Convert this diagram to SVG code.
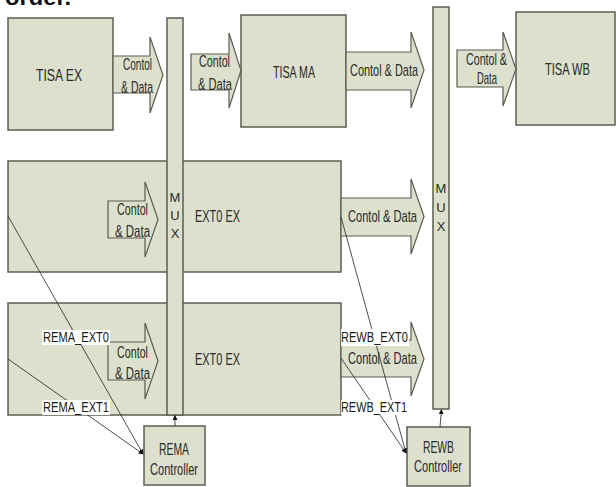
<svg xmlns="http://www.w3.org/2000/svg" width="616" height="487" viewBox="0 0 616 487">
<defs>
<style>
.box{fill:#dde0cc;stroke:#5c5c52;stroke-width:1.5}
.arr{fill:#dde0cc;stroke:#5c5c52;stroke-width:1.2;stroke-linejoin:miter}
.t{font-family:"Liberation Sans",Arial,sans-serif;font-size:17px;fill:#2a2a2a}
.m{font-family:"Liberation Sans",Arial,sans-serif;font-size:13px;fill:#2a2a2a;text-anchor:middle}
.lbl{font-family:"Liberation Sans",Arial,sans-serif;font-size:15px;fill:#1a1a1a}
.bg{fill:#ffffff}
.ln{stroke:#222;stroke-width:0.8;fill:none}
</style>
<marker id="ah" viewBox="0 0 10 10" refX="9" refY="5" markerWidth="5" markerHeight="5" markerUnits="userSpaceOnUse" orient="auto">
<path d="M0,0 L10,5 L0,10 Z" fill="#111"/>
</marker>
</defs>
<text x="5" y="5" font-family="Liberation Sans,Arial,sans-serif" font-size="22" font-weight="bold" fill="#111" textLength="66" lengthAdjust="spacingAndGlyphs">order.</text>

<g id="ext0-ex-row2">
<rect class="box" x="8" y="161" width="333" height="111"/>
<text class="t" x="195" y="222" textLength="45" lengthAdjust="spacingAndGlyphs">EXT0 EX</text>
</g>
<g id="ext0-ex-row3">
<rect class="box" x="8" y="303" width="333" height="112"/>
<text class="t" x="195" y="365" textLength="45" lengthAdjust="spacingAndGlyphs">EXT0 EX</text>
</g>
<g id="mux1">
<rect class="box" x="167" y="18" width="16" height="397"/>
<text class="m" x="175" y="202">M</text>
<text class="m" x="175" y="220">U</text>
<text class="m" x="175" y="238">X</text>
</g>
<g id="mux2">
<rect class="box" x="433" y="7" width="16" height="402"/>
<text class="m" x="441" y="193">M</text>
<text class="m" x="441" y="212">U</text>
<text class="m" x="441" y="231">X</text>
</g>
<g id="tisa-ex">
<rect class="box" x="8" y="18" width="105" height="112"/>
<text class="t" x="36" y="81" textLength="46" lengthAdjust="spacingAndGlyphs">TISA EX</text>
</g>
<g id="tisa-ma">
<rect class="box" x="241" y="15" width="105" height="112"/>
<text class="t" x="273" y="78" textLength="42" lengthAdjust="spacingAndGlyphs">TISA MA</text>
</g>
<g id="tisa-wb">
<rect class="box" x="516" y="12" width="99" height="113"/>
<text class="t" x="545" y="75" textLength="45" lengthAdjust="spacingAndGlyphs">TISA WB</text>
</g>
<g id="rema-controller">
<rect class="box" x="144" y="426" width="61" height="59"/>
<text class="t" x="159" y="455" textLength="30" lengthAdjust="spacingAndGlyphs">REMA</text>
<text class="t" x="150" y="475" textLength="48" lengthAdjust="spacingAndGlyphs">Controller</text>
</g>
<g id="rewb-controller">
<rect class="box" x="407" y="427" width="63" height="59"/>
<text class="t" x="423" y="453" textLength="31" lengthAdjust="spacingAndGlyphs">REWB</text>
<text class="t" x="414" y="472" textLength="48" lengthAdjust="spacingAndGlyphs">Controller</text>
</g>

<g id="connectors">
<g id="arrow-tisaex-mux1">
<polygon class="arr" points="113,56 150,56 150,37 163,75 150,113 150,93 113,93"/>
<text class="t" x="123" y="70" textLength="29" lengthAdjust="spacingAndGlyphs">Contol</text>
<text class="t" x="121" y="93" textLength="32" lengthAdjust="spacingAndGlyphs">&amp; Data</text>
</g>
<g id="arrow-mux1-tisama">
<polygon class="arr" points="191,54 229,54 229,33 241,70.5 229,108 229,90 191,90"/>
<text class="t" x="199" y="67" textLength="31" lengthAdjust="spacingAndGlyphs">Contol</text>
<text class="t" x="198" y="90" textLength="34" lengthAdjust="spacingAndGlyphs">&amp; Data</text>
</g>
<g id="arrow-tisama-mux2">
<polygon class="arr" points="346,52 411,52 411,32 424,70 411,108 411,90 346,90"/>
<text class="t" x="350" y="76" textLength="68" lengthAdjust="spacingAndGlyphs">Contol &amp; Data</text>
</g>
<g id="arrow-mux2-tisawb">
<polygon class="arr" points="457,50 503,50 503,32 516,69 503,106 503,87 457,87"/>
<text class="t" x="466" y="65" textLength="41" lengthAdjust="spacingAndGlyphs">Contol &amp;</text>
<text class="t" x="477" y="84" textLength="20" lengthAdjust="spacingAndGlyphs">Data</text>
</g>
<g id="arrow-row2-in">
<polygon class="arr" points="108,201 145,201 145,182 158,219.5 145,257 145,238 108,238"/>
<text class="t" x="117" y="215" textLength="31" lengthAdjust="spacingAndGlyphs">Contol</text>
<text class="t" x="115" y="237" textLength="35" lengthAdjust="spacingAndGlyphs">&amp; Data</text>
</g>
<g id="arrow-row2-out">
<polygon class="arr" points="341,198 411,198 411,179 424,216.5 411,254 411,236 341,236"/>
<text class="t" x="348" y="222" textLength="69" lengthAdjust="spacingAndGlyphs">Contol &amp; Data</text>
</g>
<g id="arrow-row3-in">
<polygon class="arr" points="108,342 145,342 145,323 158,361 145,399 145,380 108,380"/>
<text class="t" x="117" y="358" textLength="31" lengthAdjust="spacingAndGlyphs">Contol</text>
<text class="t" x="115" y="379" textLength="35" lengthAdjust="spacingAndGlyphs">&amp; Data</text>
</g>
<g id="arrow-row3-out">
<polygon class="arr" points="341,340 411,340 411,322 424,359 411,396 411,377 341,377"/>
<text class="t" x="348" y="364" textLength="69" lengthAdjust="spacingAndGlyphs">Contol &amp; Data</text>
</g>
<line class="ln" x1="8" y1="216" x2="143" y2="454" marker-end="url(#ah)"/>
<line class="ln" x1="8" y1="359" x2="143" y2="454" marker-end="url(#ah)"/>
<line class="ln" x1="341" y1="217" x2="406" y2="453" marker-end="url(#ah)"/>
<line class="ln" x1="341" y1="358" x2="406" y2="453" marker-end="url(#ah)"/>
<line class="ln" x1="175" y1="426" x2="175" y2="415.5" marker-end="url(#ah)"/>
<line class="ln" x1="440" y1="427" x2="441.5" y2="409.5" marker-end="url(#ah)"/>
<g id="labels">
<rect class="bg" x="42" y="330" width="68" height="15"/>
<text class="lbl" x="43" y="342" textLength="66" lengthAdjust="spacingAndGlyphs">REMA_EXT0</text>
<rect class="bg" x="42" y="400" width="68" height="15"/>
<text class="lbl" x="43" y="412" textLength="66" lengthAdjust="spacingAndGlyphs">REMA_EXT1</text>
<rect class="bg" x="341" y="329" width="68" height="17"/>
<text class="lbl" x="341" y="342" textLength="67" lengthAdjust="spacingAndGlyphs">REWB_EXT0</text>
<rect class="bg" x="341" y="400" width="67" height="15"/>
<text class="lbl" x="341" y="412" textLength="66" lengthAdjust="spacingAndGlyphs">REWB_EXT1</text>
</g>
</g>
</svg>
